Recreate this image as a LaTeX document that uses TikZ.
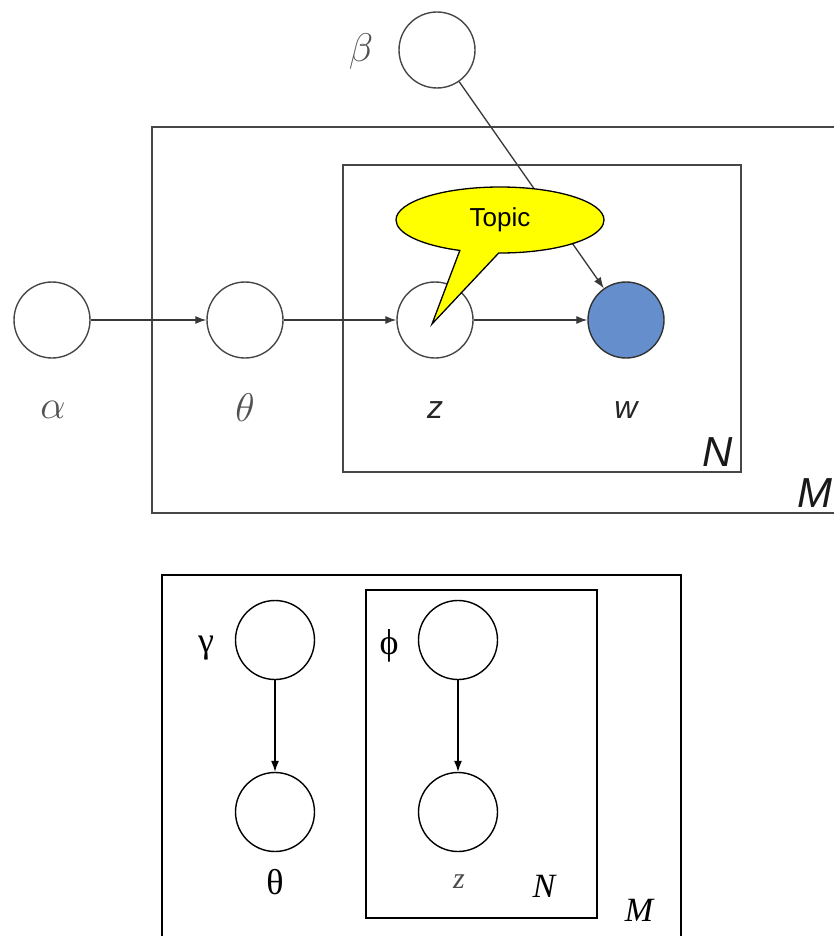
\RequirePackage{fix-cm}
\documentclass[tikz,border=0pt]{standalone}
\usepackage{fontspec}
\setmainfont{Liberation Serif}
\newfontfamily\arialf{Liberation Sans}
\usetikzlibrary{arrows.meta,shapes.callouts}
\definecolor{wblue}{RGB}{100,142,204}
\definecolor{callyellow}{RGB}{255,255,0}
\begin{document}
\begin{tikzpicture}[x=1pt,y=-1pt,
  topnode/.style={circle,draw=black!72,line width=1.4pt,minimum size=76pt,inner sep=0pt},
  botnode/.style={circle,draw=black,line width=1.4pt,minimum size=79pt,inner sep=0pt},
  toparrow/.style={draw=black!78,line width=1.3pt,-{Latex[length=11pt,width=8pt]}},
  botarrow/.style={draw=black,line width=1.2pt,-{Latex[length=11pt,width=8pt]}},
  plate/.style={draw=black!72,line width=1.6pt},
  bplate/.style={draw=black,line width=1.4pt},
  greeklbl/.style={text=black!68,font=\fontsize{40}{44}\selectfont,inner sep=0pt},
  sanslbl/.style={text=black!85,font=\arialf\itshape\fontsize{32}{35}\selectfont,inner sep=0pt},
  platelbl/.style={text=black!90,font=\arialf\itshape\fontsize{42}{46}\selectfont,inner sep=0pt},
  serlbl/.style={text=black,font=\fontsize{36}{40}\selectfont,inner sep=0pt},
  serplate/.style={text=black,font=\itshape\fontsize{34}{38}\selectfont,inner sep=0pt}]
\useasboundingbox (0,0) rectangle (833,936);
\fill[white] (0,0) rectangle (833,936);

% ---------- top diagram ----------
\draw[plate] (152,127) rectangle (840,513);
\draw[plate] (343,165) rectangle (741,472);
\node[platelbl] (lN) at (718,452) {N};
\node[platelbl] (lM) at (815,493) {M};

\node[topnode] (beta) at (437,50) {};
\node[topnode] (alpha) at (52,320) {};
\node[topnode] (theta) at (245,320) {};
\node[topnode] (z) at (435,320) {};
\node[topnode,fill=wblue,draw=black!80] (w) at (626,320) {};

\node[greeklbl] (lbeta) at (361,52) {$\beta$};
\node[greeklbl] (lalpha) at (53,410) {$\alpha$};
\node[greeklbl] (ltheta) at (245,408) {$\theta$};
\node[sanslbl] (lz) at (435,410) {z};
\node[sanslbl] (lw) at (626,410) {w};

\draw[toparrow] (alpha) -- (theta);
\draw[toparrow] (theta) -- (z);
\draw[toparrow] (z) -- (w);
\draw[toparrow] (beta) -- (w);

\coordinate (tip) at (432,324);
\node[ellipse callout,draw=black,line width=1.3pt,fill=callyellow,
      minimum width=208pt,minimum height=66pt,inner sep=0pt,
      callout absolute pointer={(tip)},callout pointer arc=22,
      font=\arialf\fontsize{26}{30}\selectfont] (topic) at (500,220) {Topic};

% ---------- bottom diagram ----------
\draw[bplate] (162,575) rectangle (681,945);
\draw[bplate] (366,590) rectangle (597,918);

\node[botnode] (gamma) at (275,640) {};
\node[botnode] (btheta) at (275,812) {};
\node[botnode] (phi) at (458,640) {};
\node[botnode] (bz) at (458,812) {};

\node[serlbl] (lgamma) at (206,648) {γ};
\node[serlbl] (lphi) at (389,646) {ϕ};
\node[serlbl] (lbtheta) at (275,882) {θ};
\node[serlbl,text=black!70,font=\itshape\fontsize{30}{34}\selectfont] (lbz) at (459,882) {z};
\node[serplate] (lbN) at (544,886) {N};
\node[serplate] (lbM) at (639,910) {M};

\draw[botarrow] (gamma) -- (btheta);
\draw[botarrow] (phi) -- (bz);
\end{tikzpicture}
\end{document}
